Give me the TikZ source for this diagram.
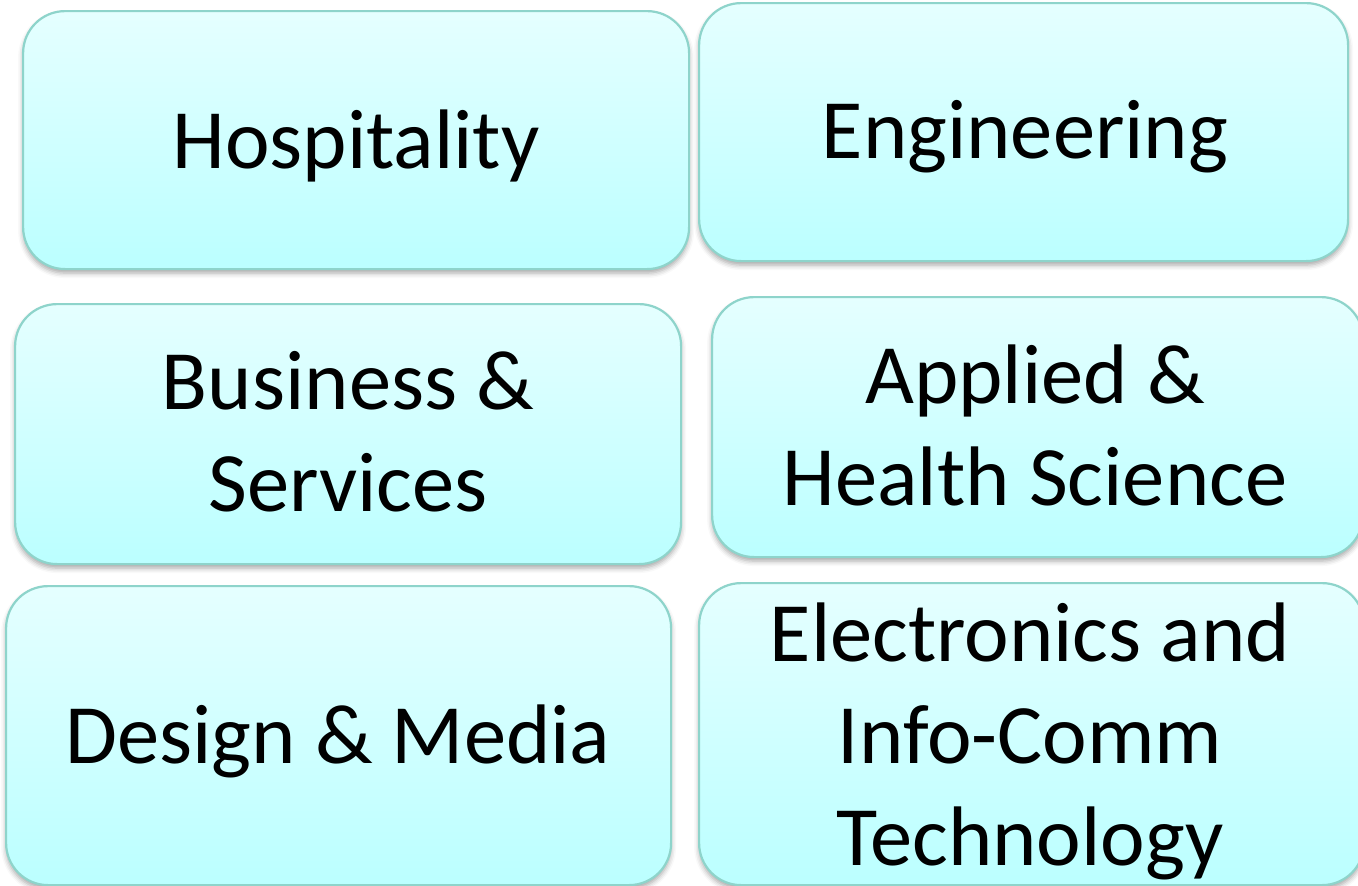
\documentclass[tikz,border=0pt]{standalone}
\usepackage{fontspec}
\setmainfont{Carlito}
\usetikzlibrary{shadows.blur}
\definecolor{boxtop}{RGB}{229,255,255}
\definecolor{boxbot}{RGB}{187,255,255}
\definecolor{boxline}{RGB}{142,212,203}
\tikzset{
  box/.style={draw=boxline, line width=2.2pt, rounded corners=42pt,
    top color=boxtop, bottom color=boxbot, inner sep=0pt, anchor=north west,
    blur shadow={shadow xshift=0pt, shadow yshift=-4pt, shadow blur radius=5pt, shadow opacity=35}},
  lbl/.style={anchor=base, inner sep=0pt, text=black, font=\fontsize{84.5}{102}\selectfont}
}
\newcommand{\lines}[1]{\begin{tabular}[t]{@{}c@{}}#1\end{tabular}}
\begin{document}
\begin{tikzpicture}[x=1pt,y=-1pt]
\useasboundingbox (0,0) rectangle (1358,886);
% boxes
\node[box, minimum width=666pt, minimum height=258pt] (hosp) at (22,10) {};
\node[box, minimum width=649pt, minimum height=258pt] (eng) at (698,2) {};
\node[box, minimum width=666pt, minimum height=260pt] (bus) at (14,303) {};
\node[box, minimum width=651pt, minimum height=260pt] (app) at (711,296) {};
\node[box, minimum width=665pt, minimum height=299pt] (des) at (5,585) {};
\node[box, minimum width=665pt, minimum height=302pt] (ele) at (698,582) {};
% labels
\node[lbl] (hospT) at (356,168) {Hospitality};
\node[lbl] (engT) at (1025,158) {Engineering};
\node[lbl] (busT) at (348,409) {\lines{Business \&\\Services}};
\node[lbl] (appT) at (1035,403) {\lines{Applied \&\\Health Science}};
\node[lbl] (desT) at (338,763) {Design \& Media};
\node[lbl] (eleT) at (1030,661) {\lines{Electronics and\\Info-Comm\\Technology}};
\end{tikzpicture}
\end{document}
